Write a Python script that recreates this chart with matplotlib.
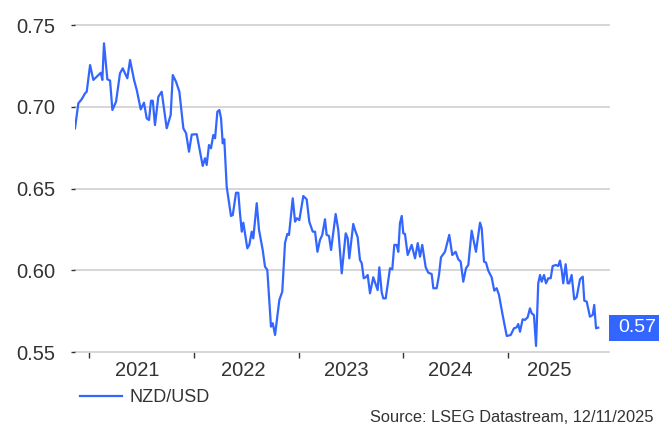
import matplotlib
matplotlib.use('Agg')
import matplotlib.pyplot as plt
from matplotlib.patches import Rectangle

# NZD/USD, weekly-ish readings (decimal year, rate)
years = [
    2020.864, 2020.896, 2020.928, 2020.960, 2020.976, 2021.008, 2021.039, 2021.072,
    2021.110, 2021.125, 2021.141, 2021.173, 2021.199, 2021.221, 2021.256, 2021.294,
    2021.320, 2021.364, 2021.390, 2021.428, 2021.454, 2021.492, 2021.523, 2021.549,
    2021.571, 2021.590, 2021.607, 2021.628, 2021.660, 2021.692, 2021.740, 2021.778,
    2021.798, 2021.829, 2021.861, 2021.899, 2021.925, 2021.953, 2021.979, 2022.027,
    2022.052, 2022.084, 2022.106, 2022.122, 2022.144, 2022.163, 2022.185, 2022.202,
    2022.224, 2022.243, 2022.259, 2022.275, 2022.290, 2022.313, 2022.354, 2022.371,
    2022.402, 2022.424, 2022.440, 2022.457, 2022.472, 2022.488, 2022.510, 2022.529,
    2022.552, 2022.567, 2022.600, 2022.622, 2022.657, 2022.679, 2022.701, 2022.736,
    2022.753, 2022.775, 2022.816, 2022.844, 2022.870, 2022.892, 2022.908, 2022.944,
    2022.966, 2022.982, 2023.007, 2023.045, 2023.077, 2023.102, 2023.135, 2023.157,
    2023.180, 2023.204, 2023.226, 2023.252, 2023.268, 2023.290, 2023.310, 2023.354,
    2023.379, 2023.412, 2023.450, 2023.469, 2023.484, 2023.522, 2023.539, 2023.564,
    2023.586, 2023.603, 2023.622, 2023.641, 2023.660, 2023.682, 2023.713, 2023.755,
    2023.771, 2023.794, 2023.809, 2023.832, 2023.873, 2023.895, 2023.914, 2023.937,
    2023.952, 2023.968, 2023.985, 2024.000, 2024.016, 2024.042, 2024.080, 2024.112,
    2024.138, 2024.160, 2024.181, 2024.214, 2024.239, 2024.271, 2024.287, 2024.319,
    2024.341, 2024.360, 2024.398, 2024.439, 2024.468, 2024.500, 2024.525, 2024.548,
    2024.573, 2024.599, 2024.621, 2024.653, 2024.694, 2024.733, 2024.749, 2024.771,
    2024.790, 2024.812, 2024.844, 2024.869, 2024.892, 2024.914, 2024.949, 2024.988,
    2025.026, 2025.057, 2025.083, 2025.098, 2025.115, 2025.140, 2025.162, 2025.188,
    2025.210, 2025.226, 2025.248, 2025.268, 2025.289, 2025.306, 2025.322, 2025.344,
    2025.363, 2025.385, 2025.408, 2025.427, 2025.458, 2025.480, 2025.497, 2025.513,
    2025.528, 2025.551, 2025.570, 2025.585, 2025.608, 2025.633, 2025.656, 2025.688,
    2025.714, 2025.729, 2025.752, 2025.783, 2025.809, 2025.824, 2025.841, 2025.862,
]
nzdusd = [
    0.6868, 0.7021, 0.7046, 0.7082, 0.7092, 0.7255, 0.7164, 0.7184,
    0.7208, 0.7164, 0.7388, 0.7168, 0.7160, 0.6980, 0.7031, 0.7205,
    0.7235, 0.7174, 0.7286, 0.7164, 0.7102, 0.6984, 0.7025, 0.6929,
    0.6919, 0.7037, 0.7037, 0.6888, 0.7061, 0.7092, 0.6868, 0.6950,
    0.7194, 0.7153, 0.7092, 0.6868, 0.6838, 0.6725, 0.6830, 0.6832,
    0.6746, 0.6638, 0.6685, 0.6644, 0.6766, 0.6746, 0.6827, 0.6807,
    0.6970, 0.6980, 0.6929, 0.6776, 0.6801, 0.6511, 0.6332, 0.6338,
    0.6474, 0.6474, 0.6348, 0.6236, 0.6291, 0.6226, 0.6134, 0.6155,
    0.6236, 0.6195, 0.6410, 0.6246, 0.6124, 0.6022, 0.6002, 0.5655,
    0.5676, 0.5604, 0.5818, 0.5869, 0.6166, 0.6222, 0.6216, 0.6440,
    0.6297, 0.6318, 0.6307, 0.6454, 0.6434, 0.6297, 0.6236, 0.6236,
    0.6113, 0.6185, 0.6216, 0.6312, 0.6216, 0.6210, 0.6124, 0.6344,
    0.6246, 0.5981, 0.6226, 0.6195, 0.6073, 0.6283, 0.6246, 0.6202,
    0.6063, 0.6043, 0.5951, 0.5957, 0.5971, 0.5859, 0.5957, 0.5879,
    0.6018, 0.5863, 0.5828, 0.5828, 0.6012, 0.6006, 0.6155, 0.6155,
    0.6113, 0.6287, 0.6332, 0.6226, 0.6222, 0.6093, 0.6155, 0.6073,
    0.6166, 0.6083, 0.6155, 0.6018, 0.5985, 0.5977, 0.5890, 0.5890,
    0.5971, 0.6079, 0.6113, 0.6216, 0.6093, 0.6113, 0.6067, 0.6053,
    0.5930, 0.6012, 0.6032, 0.6242, 0.6113, 0.6291, 0.6257, 0.6053,
    0.6047, 0.5997, 0.5957, 0.5875, 0.5890, 0.5849, 0.5726, 0.5598,
    0.5604, 0.5645, 0.5651, 0.5671, 0.5624, 0.5700, 0.5696, 0.5712,
    0.5767, 0.5737, 0.5726, 0.5537, 0.5920, 0.5971, 0.5930, 0.5971,
    0.5920, 0.5951, 0.5951, 0.6026, 0.6032, 0.6026, 0.6059, 0.6002,
    0.5920, 0.6037, 0.5920, 0.5920, 0.5971, 0.5822, 0.5835, 0.5945,
    0.5961, 0.5814, 0.5808, 0.5716, 0.5726, 0.5788, 0.5645, 0.5649,
]

year_ticks = [2021, 2022, 2023, 2024, 2025]
year_label_pos = [2021.46, 2022.47, 2023.46, 2024.45, 2025.39]
year_labels = ['2021', '2022', '2023', '2024', '2025']
y_ticks = [0.55, 0.60, 0.65, 0.70, 0.75]
y_labels = ['0.55', '0.60', '0.65', '0.70', '0.75']
series_name = 'NZD/USD'
last_label = '0.57'
source_text = 'Source: LSEG Datastream, 12/11/2025'

blue = '#3366ff'
text_col = '#333333'
grid_col = '#d3d3d3'

plt.rcParams['font.family'] = ['Liberation Sans', 'DejaVu Sans']

fig = plt.figure(figsize=(6.59, 4.25), dpi=100)
ax = fig.add_axes([75 / 659, 1 - 352 / 425, 534 / 659, 327 / 425])

ax.plot(years, nzdusd, color=blue, lw=1.6, label=series_name, solid_joinstyle='round')

ax.set_xlim(2020.864, 2025.965)
ax.set_ylim(0.55, 0.75)

for s in ax.spines.values():
    s.set_visible(False)

ax.set_yticks(y_ticks)
ax.set_yticklabels(y_labels)
ax.yaxis.grid(True, color=grid_col, lw=1.3)
for gl in ax.get_ygridlines():
    gl.set_clip_on(False)
ax.tick_params(axis='y', length=3, width=1, color=text_col, pad=11,
               labelsize=14.5, labelcolor=text_col)

# year ticks at year start, labels mid-year
ax.set_xticks(year_ticks)
ax.set_xticklabels([])
ax.set_xticks(year_label_pos, minor=True)
ax.set_xticklabels(year_labels, minor=True)
ax.tick_params(axis='x', which='major', length=4, width=1, color=text_col)
ax.tick_params(axis='x', which='minor', length=0, pad=6.5, labelsize=14.5,
               labelcolor=text_col)
ax.set_axisbelow(True)

# last value tag on the right
last = nzdusd[-1]
ax.add_patch(Rectangle((1.0, last - 0.0080), 0.2, 0.0160, transform=ax.get_yaxis_transform(),
                       facecolor=blue, edgecolor='none', clip_on=False))
ax.annotate(last_label, xy=(1.0, last), xycoords=ax.get_yaxis_transform(),
            xytext=(7, 0), textcoords='offset points', ha='left', va='center',
            color='white', fontsize=14, annotation_clip=False)

ax.legend(loc='center left', bbox_to_anchor=(80 / 659, 1 - 398 / 425),
          bbox_transform=fig.transFigure, frameon=False, fontsize=13,
          handlelength=2.3, handletextpad=0.45, borderpad=0, borderaxespad=0,
          labelcolor=text_col)

fig.text(653 / 659, 3.5 / 425, source_text, ha='right', va='baseline',
         fontsize=11.8, color=text_col)

fig.savefig('out.png', dpi=100)
